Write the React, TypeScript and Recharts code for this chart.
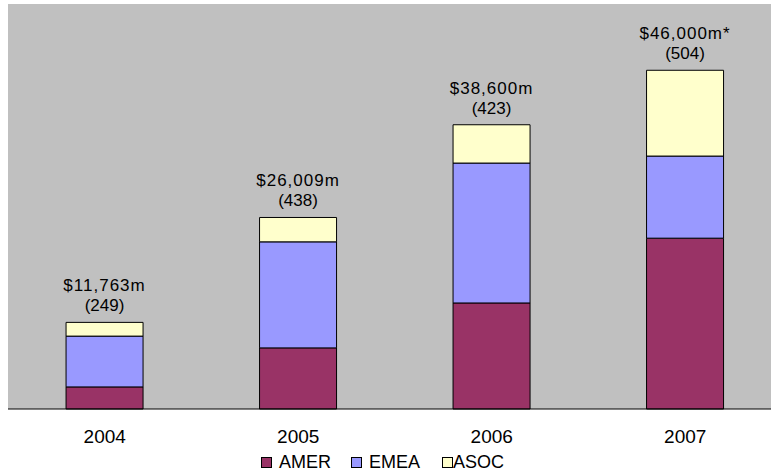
import { BarChart, Bar, XAxis, YAxis, CartesianGrid, LabelList } from 'recharts'

// values in $m
const years = ['2004', '2005', '2006', '2007']
const amer = [3000, 8300, 14400, 23200]
const emea = [6900, 14400, 19000, 11150]
const asoc = [1863, 3309, 5200, 11650]
const totalLabels = ['$11,763m', '$26,009m', '$38,600m', '$46,000m*']
const dealLabels = ['(249)', '(438)', '(423)', '(504)']

const seriesColors = { AMER: '#993366', EMEA: '#9999FF', ASOC: '#FFFFCC' }
const font = '"Liberation Sans", Arial, sans-serif'

const data = years.map((year, i) => ({
  year,
  AMER: amer[i],
  EMEA: emea[i],
  ASOC: asoc[i],
}))

// two-line label above each stack
const TopLabel = (props: any) => {
  const { x, y, width, index } = props
  const cx = x + width / 2
  return (
    <g>
      <text x={cx} y={y - 31} textAnchor="middle" fontSize={17} letterSpacing={1} fill="#000" fontFamily={font}>
        {totalLabels[index]}
      </text>
      <text x={cx} y={y - 11} textAnchor="middle" fontSize={17} fill="#000" fontFamily={font}>
        {dealLabels[index]}
      </text>
    </g>
  )
}

const legendItems = [
  { name: 'AMER', square: 261, text: 279 },
  { name: 'EMEA', square: 351, text: 369 },
  { name: 'ASOC', square: 442, text: 453 },
]

export default function App() {
  return (
    <div style={{ position: 'absolute', left: 0, top: 0, width: 771, height: 474, overflow: 'hidden', background: '#fff' }}>
      <BarChart
        width={790}
        height={474}
        data={data}
        margin={{ top: 4, right: 8, left: 8, bottom: 0 }}
        barCategoryGap="30%"
      >
        <CartesianGrid horizontal={false} vertical={false} fill="#C0C0C0" />
        <XAxis
          dataKey="year"
          height={65}
          axisLine={{ stroke: '#000' }}
          tickLine={false}
          tickSize={0}
          tickMargin={21}
          tick={{ fontSize: 19, fill: '#000', fontFamily: font }}
        />
        <XAxis xAxisId="top" dataKey="year" orientation="top" height={0} tick={false} tickLine={false} axisLine={{ stroke: '#808080' }} />
        <YAxis width={0} domain={[0, 55000]} tick={false} tickLine={false} axisLine={{ stroke: '#808080' }} />
        <Bar dataKey="AMER" stackId="a" fill={seriesColors.AMER} stroke="#000" strokeWidth={1} isAnimationActive={false} />
        <Bar dataKey="EMEA" stackId="a" fill={seriesColors.EMEA} stroke="#000" strokeWidth={1} isAnimationActive={false} />
        <Bar dataKey="ASOC" stackId="a" fill={seriesColors.ASOC} stroke="#000" strokeWidth={1} isAnimationActive={false}>
          <LabelList dataKey="ASOC" content={TopLabel} />
        </Bar>
      </BarChart>
      {legendItems.map((item) => (
        <div key={item.name}>
          <div
            style={{
              position: 'absolute',
              left: item.square,
              top: 457,
              width: 9,
              height: 9,
              border: '1px solid #000',
              background: seriesColors[item.name as keyof typeof seriesColors],
            }}
          />
          <div
            style={{
              position: 'absolute',
              left: item.text,
              top: 452,
              fontSize: 18,
              lineHeight: '20px',
              fontFamily: font,
              color: '#000',
            }}
          >
            {item.name}
          </div>
        </div>
      ))}
    </div>
  )
}
